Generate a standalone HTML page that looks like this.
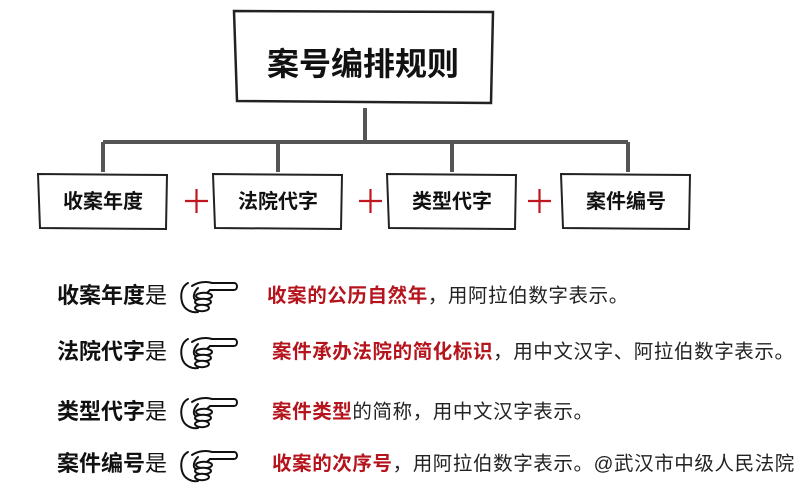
<!DOCTYPE html>
<html><head><meta charset="utf-8"><style>
body{margin:0;background:#fff;width:797px;height:488px;overflow:hidden;font-family:"Liberation Sans","Noto Sans CJK SC",sans-serif}
</style></head><body>
<svg width="797" height="488" viewBox="0 0 797 488" xmlns="http://www.w3.org/2000/svg" font-family="Liberation Sans, Noto Sans CJK SC, sans-serif">
<defs>
<g id="hand" fill="#fff" stroke="#111" stroke-width="2" stroke-linejoin="round" stroke-linecap="round">
<path d="M10 3 C4 6 2 14 4 22 C6 30 14 33 20 32"/>
<path d="M14 6 C20 2 28 1 34 3 L56 3 C60 3 60 10 56 10 L32 10"/>
<path d="M20 8 C16 12 14 18 18 20 C22 20 28 14 32 10"/>
<ellipse cx="26" cy="16" rx="8" ry="3.2"/>
<ellipse cx="25" cy="22" rx="8" ry="3.2"/>
<ellipse cx="24" cy="28" rx="7" ry="3.2"/>
</g>
</defs>
<g fill="none" stroke="#222" stroke-width="2.5">
<path d="M234 11 L493 12 L491 103 L237 101 Z"/>
</g>
<g stroke="#555" stroke-width="4" fill="none">
<path d="M365 108 V142"/>
<path d="M103 142 H628"/>
<path d="M103 142 V172 M278 142 V172 M452 142 V172 M628 142 V172"/>
</g>
<g fill="none" stroke="#222" stroke-width="2">
<path d="M38 174 L167 175 L166 229 L40 228 Z"/>
<path d="M213 174 L342 175 L341 229 L215 228 Z"/>
<path d="M387 174 L516 175 L515 229 L389 228 Z"/>
<path d="M561 174 L690 175 L689 229 L563 228 Z"/>
</g>
<g stroke="#c0171f" stroke-width="2.2">
<path d="M185 201 H208 M196.5 189 V213"/>
<path d="M359 201 H382 M370.5 189 V213"/>
<path d="M528 201 H551 M539.5 189 V213"/>
</g>
<text x="363" y="75" font-size="32" font-weight="bold" text-anchor="middle" fill="#111">案号编排规则</text>
<g font-size="20" font-weight="bold" text-anchor="middle" fill="#111">
<text x="103" y="208">收案年度</text>
<text x="278" y="208">法院代字</text>
<text x="452" y="208">类型代字</text>
<text x="626" y="208">案件编号</text>
</g>
<g font-size="22" fill="#111">
<text x="57" y="303"><tspan font-weight="bold">收案年度</tspan>是</text>
<text x="57" y="359"><tspan font-weight="bold">法院代字</tspan>是</text>
<text x="57" y="419"><tspan font-weight="bold">类型代字</tspan>是</text>
<text x="57" y="471"><tspan font-weight="bold">案件编号</tspan>是</text>
</g>
<use href="#hand" x="178" y="280"/>
<use href="#hand" x="178" y="336"/>
<use href="#hand" x="178" y="396"/>
<use href="#hand" x="178" y="449"/>
<g font-size="19.5" fill="#222" letter-spacing="0.6">
<text x="267" y="302"><tspan fill="#b5141c" font-weight="bold">收案的公历自然年</tspan>，用阿拉伯数字表示。</text>
<text x="272" y="358"><tspan fill="#b5141c" font-weight="bold">案件承办法院的简化标识</tspan>，用中文汉字、阿拉伯数字表示。</text>
<text x="272" y="418"><tspan fill="#b5141c" font-weight="bold">案件类型</tspan>的简称，用中文汉字表示。</text>
<text x="272" y="470"><tspan fill="#b5141c" font-weight="bold">收案的次序号</tspan>，用阿拉伯数字表示。@武汉市中级人民法院</text>
</g>
</svg>
</body></html>
